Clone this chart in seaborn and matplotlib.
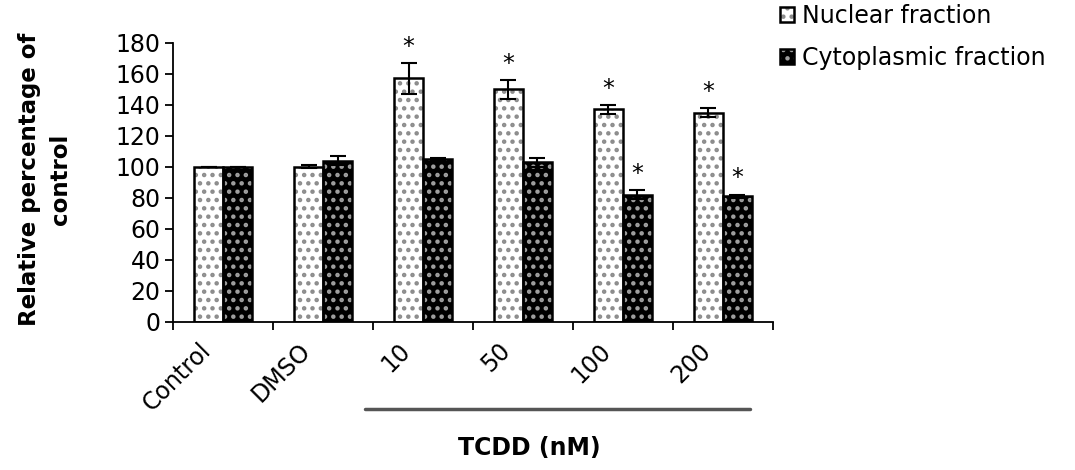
import matplotlib
matplotlib.use('Agg')
import matplotlib.pyplot as plt
import matplotlib.transforms as mtransforms
from matplotlib.patches import Rectangle, Patch
from matplotlib.legend_handler import HandlerTuple
import seaborn as sns
import pandas as pd

categories = ['Control', 'DMSO', '10', '50', '100', '200']
series = ['Nuclear fraction', 'Cytoplasmic fraction']
nuclear = [100, 100, 157, 150, 137, 135]
nuclear_err = [0, 1, 10, 6, 3, 3]
cyto = [100, 104, 105, 103, 82, 81]
cyto_err = [0, 3, 1, 3, 3, 1]
nuclear_sig = [False, False, True, True, True, True]
cyto_sig = [False, False, False, False, True, True]
yticks = [0, 20, 40, 60, 80, 100, 120, 140, 160, 180]

sns.set_theme(style='ticks')
plt.rcParams['font.family'] = ['DejaVu Sans']
plt.rcParams['hatch.linewidth'] = 2.0
plt.rcParams['text.color'] = 'black'
plt.rcParams['axes.labelcolor'] = 'black'
plt.rcParams['xtick.color'] = 'black'
plt.rcParams['ytick.color'] = 'black'

df = pd.DataFrame({
    'category': categories * 2,
    'fraction': [series[0]] * len(categories) + [series[1]] * len(categories),
    'value': nuclear + cyto,
})

fig = plt.figure(figsize=(10.75, 4.7), dpi=100)
ax = fig.add_axes([0.161, 0.315, 0.558, 0.594])

sns.barplot(data=df, x='category', y='value', hue='fraction', order=categories,
            hue_order=series, palette=['white', 'black'], width=0.58,
            saturation=1, errorbar=None, legend=False, ax=ax)

hatch_cols = ['#8c8c8c', '#a0a0a0']
errs = [nuclear_err, cyto_err]
vals = [nuclear, cyto]
sigs = [nuclear_sig, cyto_sig]
bar_conts = list(ax.containers)[:2]
for k, cont in enumerate(bar_conts):
    xs = []
    for bar in cont.patches:
        bar.set_hatch('..')
        bar.set_edgecolor(hatch_cols[k])
        bar.set_linewidth(0)
        ax.add_patch(Rectangle(bar.get_xy(), bar.get_width(), bar.get_height(),
                               fill=False, edgecolor='black', linewidth=1.8, zorder=3))
        xs.append(bar.get_x() + bar.get_width() / 2)
    ax.errorbar(xs, vals[k], yerr=errs[k], fmt='none', ecolor='black',
                elinewidth=1.5, capsize=6, capthick=1.5, zorder=4)
    for x, v, e, s in zip(xs, vals[k], errs[k], sigs[k]):
        if s:
            ax.text(x, v + e + 6, '*', ha='center', va='baseline', fontsize=17,
                    color='black')

ax.set_xlim(-0.5, len(categories) - 0.5)
ax.set_ylim(0, 180)
ax.set_yticks(yticks)
ax.tick_params(axis='y', labelsize=17, length=6, width=1.3, color='black',
               labelcolor='black', pad=3)
ax.set_xticks(range(len(categories)))
ax.set_xticks([i - 0.5 for i in range(len(categories) + 1)], minor=True)
ax.tick_params(axis='x', which='major', length=0, pad=18, labelsize=17,
               labelcolor='black')
ax.tick_params(axis='x', which='minor', length=6, width=1.3, color='black')
offset = mtransforms.ScaledTranslation(-0.16, 0, fig.dpi_scale_trans)
for lab in ax.get_xticklabels():
    lab.set_rotation(45)
    lab.set_ha('right')
    lab.set_va('center')
    lab.set_rotation_mode('anchor')
    lab.set_transform(lab.get_transform() + offset)

for sp in ['top', 'right']:
    ax.spines[sp].set_visible(False)
for sp in ['left', 'bottom']:
    ax.spines[sp].set_linewidth(1.3)
    ax.spines[sp].set_color('black')

ax.set_xlabel('')
ax.set_ylabel('Relative percentage of\ncontrol', fontsize=16.5, fontweight='bold',
              linespacing=1.45, color='black')
ax.yaxis.set_label_coords(-0.168, 0.51)

blend = mtransforms.blended_transform_factory(ax.transData, ax.transAxes)
ax.plot([2 - 0.58, 5 + 0.27], [-0.312, -0.312], transform=blend, color='#555555',
        linewidth=2.5, clip_on=False)
ax.text(3.06, -0.45, 'TCDD (nM)', transform=blend, ha='center', va='center',
        fontsize=17, fontweight='bold', color='black')

handles = [
    (Patch(facecolor='white', edgecolor=hatch_cols[0], hatch='..', linewidth=0),
     Patch(fill=False, edgecolor='black', linewidth=1.8)),
    (Patch(facecolor='black', edgecolor=hatch_cols[1], hatch='..', linewidth=0),
     Patch(fill=False, edgecolor='black', linewidth=1.8)),
]
leg = fig.legend(handles, series, handler_map={tuple: HandlerTuple(ndivide=1, pad=0)},
                 loc='upper left', bbox_to_anchor=(780 / 1075, 1 - 4 / 470),
                 frameon=False, fontsize=17, handlelength=0.6, handleheight=0.6,
                 handletextpad=0.35, labelspacing=0.75, borderaxespad=0, borderpad=0)
for t in leg.get_texts():
    t.set_color('black')

fig.savefig('out.png', dpi=100, facecolor='white')
